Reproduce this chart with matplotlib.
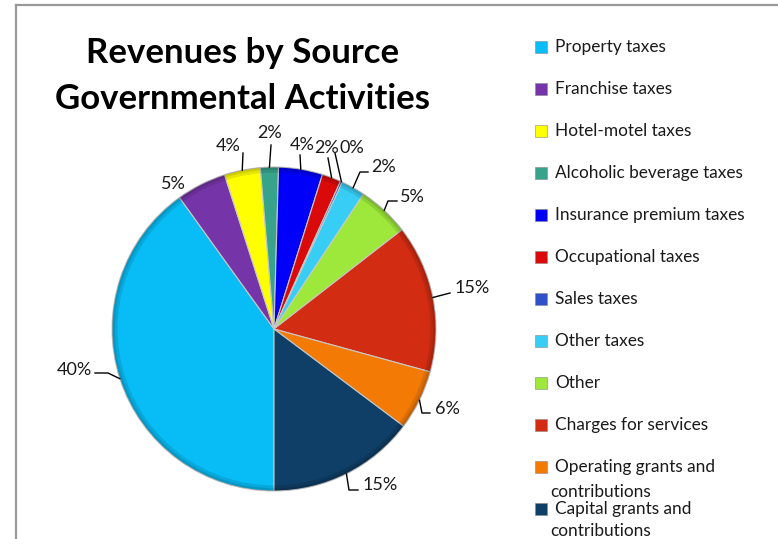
import matplotlib
matplotlib.use("Agg")
import matplotlib.pyplot as plt
from matplotlib.patches import Rectangle, Wedge
from matplotlib.lines import Line2D
import numpy as np

# ---------------- data ----------------
categories = ["Property taxes", "Franchise taxes", "Hotel-motel taxes",
              "Alcoholic beverage taxes", "Insurance premium taxes",
              "Occupational taxes", "Sales taxes", "Other taxes", "Other",
              "Charges for services", "Operating grants and\ncontributions",
              "Capital grants and\ncontributions"]
values = [40.2, 5.0, 3.6, 1.8, 4.4, 1.9, 0.2, 2.4, 5.2, 14.8, 6.0, 14.8]
colors = ["#08BDF6", "#7535A8", "#FFFF00", "#36A38A", "#0000FA", "#DA0A0A",
          "#3050C8", "#38CDF5", "#9DE83A", "#D22C12", "#F47A06", "#0F3E66"]
title = "Revenues by Source\nGovernmental Activities"

# ---------------- layout ----------------
W, H = 778, 539
R = 162.0              # pie radius in px
CX, CY = 274.0, 329.0  # pie center in px
FONT = "Lato"

def P(px, py):
    return ((px - CX) / R, (CY - py) / R)

fig = plt.figure(figsize=(W / 100, H / 100), dpi=100)
ax = fig.add_axes([0, 0, 1, 1])

wedges, _ = ax.pie(values, colors=colors, startangle=-90, counterclock=False,
                   radius=1.0, center=(0, 0), frame=True,
                   wedgeprops=dict(edgecolor="#c8c8c8", linewidth=0.8))
ax.set_aspect("auto")
ax.set_xlim(-CX / R, (W - CX) / R)
ax.set_ylim((CY - H) / R, CY / R)
ax.axis("off")

# subtle bevel rim on each wedge
for w in wedges:
    for width, alpha in [(0.035, 0.10), (0.018, 0.10)]:
        ax.add_patch(Wedge((0, 0), 1.0, w.theta1, w.theta2, width=width,
                           facecolor="black", alpha=alpha, edgecolor="none"))

# data labels with leader lines (text centre px, elbow points px)
label_layout = [
    ((74, 370), [(108, 373), (95, 373)]),
    ((173, 184), None),
    ((228, 146), [(243, 153)]),
    ((270, 133), [(271, 145)]),
    ((302, 145), [(300, 155)]),
    ((327, 148), [(328, 158)]),
    ((352, 148), [(335, 153)]),
    ((384, 167), [(360, 172), (368, 172)]),
    ((412, 197), [(388, 201), (397, 201)]),
    ((472, 288), [(450, 293)]),
    ((447, 409), [(422, 413), (430, 413)]),
    ((380, 485), [(349, 490), (358, 490)]),
]
total = sum(values)
for w, v, (tpos, path) in zip(wedges, values, label_layout):
    mid = np.deg2rad((w.theta1 + w.theta2) / 2)
    anchor = (np.cos(mid), np.sin(mid))
    if path:
        pts = [anchor] + [P(*p) for p in path]
        xs, ys = zip(*pts)
        ax.add_line(Line2D(xs, ys, color="black", lw=1.0))
    tx, ty = P(*tpos)
    ax.text(tx, ty, f"{v / total * 100:.0f}%", ha="center", va="center",
            fontsize=13, family=FONT, color="#1a1a1a")

# title
fig.text(243 / W, 1 - 76 / H, title, ha="center", va="center",
         fontsize=25, fontweight="bold", family=FONT, linespacing=1.55)

# legend (manual to match row spacing)
row0, step = 47, 42
n = len(categories)
for i, (lab, col) in enumerate(zip(categories, colors)):
    y = row0 + step * i
    fig.patches.append(Rectangle((535 / W, 1 - (y + 6) / H), 12 / W, 12 / H,
                                 transform=fig.transFigure, facecolor=col,
                                 edgecolor="#888888", linewidth=0.4))
    lines = lab.split("\n")
    fig.text(555 / W, 1 - y / H, lines[0], ha="left", va="center",
             fontsize=12.4, family=FONT, color="#1a1a1a")
    if len(lines) > 1:
        dy = 25 if i < n - 1 else 22
        fig.text(550 / W, 1 - (y + dy) / H, lines[1], ha="left", va="center",
                 fontsize=12.4, family=FONT, color="#1a1a1a")

# chart border (top and left visible)
fig.lines.append(Line2D([15.5 / W, 15.5 / W], [0, 1 - 5 / H],
                        transform=fig.transFigure, color="#9a9a9a", lw=1.6))
fig.lines.append(Line2D([15.5 / W, 1], [1 - 5 / H, 1 - 5 / H],
                        transform=fig.transFigure, color="#9a9a9a", lw=1.6))

fig.savefig("out.png", dpi=100, facecolor="white")
